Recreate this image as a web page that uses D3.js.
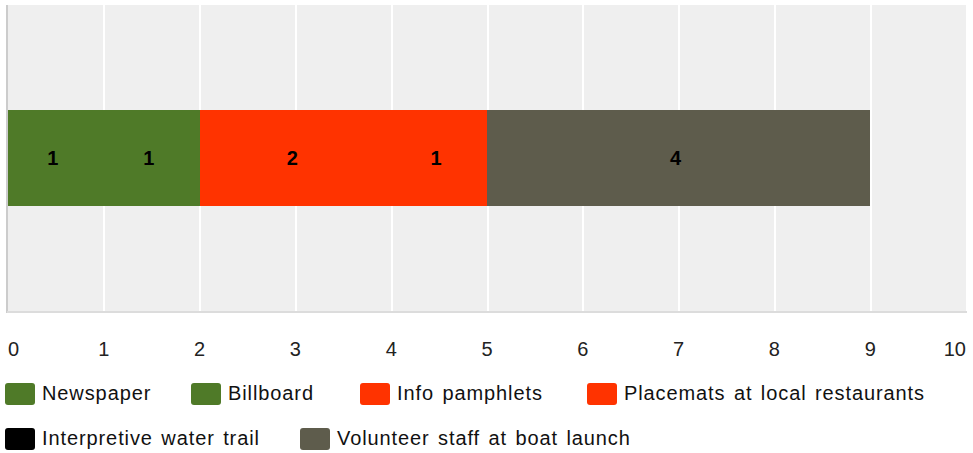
<script src='https://d3js.org/d3.v7.min.js'></script>
<style>
body {margin:0; background:#fff;}
text {font-family:Arial,'Liberation Sans',sans-serif;}
.grid line {stroke:#fff; stroke-width:2; shape-rendering:crispEdges;}
.grid path {display:none;}
.seg {shape-rendering:crispEdges;}
.tick-lbl {font-size:20px; fill:#222;}
.val {font-size:20px; font-weight:bold; fill:#000;}
.leg {font-size:20px; fill:#111; letter-spacing:0.9px; word-spacing:2px;}
</style>
<body>
<svg id='chart' width='973' height='453'></svg>
<script>
var series=['Newspaper','Billboard','Info pamphlets','Placemats at local restaurants','Interpretive water trail','Volunteer staff at boat launch'];
var values=[1,1,2,1,0,4];
var colors=['#4f7a28','#4f7a28','#ff3300','#ff3300','#000000','#5e5c4c'];
var ticks=[0,1,2,3,4,5,6,7,8,9,10];

var m={left:8,right:7,top:5,bottom:142};
var W=973,H=453,w=W-m.left-m.right,h=H-m.top-m.bottom;
var svg=d3.select('#chart');
var g=svg.append('g').attr('transform','translate('+m.left+','+m.top+')');

var x=d3.scaleLinear().domain([0,10]).range([0,w]);
var y=d3.scaleBand().domain(['row']).range([0,h]).paddingInner(0).paddingOuter(1.094);

g.append('rect').attr('width',w).attr('height',h).attr('fill','#efefef');
g.append('g').attr('class','grid').attr('transform','translate(0,'+h+')')
 .call(d3.axisBottom(x).tickValues(ticks.slice(1,-1)).tickSize(h).tickFormat(''))
 .selectAll('line').attr('y1',-h).attr('y2',0);
g.append('line').attr('x1',-1).attr('x2',-1).attr('y1',0).attr('y2',h+2).attr('stroke','#cccccc').attr('stroke-width',2);
g.append('line').attr('x1',-1).attr('x2',w+1).attr('y1',h+1).attr('y2',h+1).attr('stroke','#dcdcdc').attr('stroke-width',2);

var stacked=[],acc=0;
values.forEach(function(v,i){stacked.push({name:series[i],v:v,x0:acc,x1:acc+v,c:colors[i]});acc+=v;});

g.selectAll('.seg').data(stacked.filter(function(d){return d.v>0})).enter().append('rect')
 .attr('class','seg').attr('x',function(d){return Math.round(x(d.x0))}).attr('width',function(d){return Math.round(x(d.x1))-Math.round(x(d.x0))})
 .attr('y',y('row')).attr('height',y.bandwidth()).attr('fill',function(d){return d.c});
g.selectAll('.val').data(stacked.filter(function(d){return d.v>0})).enter().append('text')
 .attr('class','val').attr('text-anchor','middle').attr('dx',-3)
 .attr('x',function(d){return (x(d.x0)+x(d.x1))/2}).attr('y',y('row')+y.bandwidth()/2+7)
 .text(function(d){return d.v});

g.selectAll('.tick-lbl').data(ticks).enter().append('text').attr('class','tick-lbl')
 .attr('x',function(d){return x(d)}).attr('y',351)
 .attr('text-anchor',function(d){return d===0?'start':d===10?'end':'middle'})
 .text(function(d){return d});

var legPos=[[5,393],[191,393],[360,393],[587,393],[5,438],[300,438]];
var leg=svg.selectAll('.legitem').data(series).enter().append('g')
 .attr('transform',function(d,i){return 'translate('+legPos[i][0]+','+legPos[i][1]+')'});
leg.append('rect').attr('y',-10).attr('width',30).attr('height',22).attr('rx',3).attr('fill',function(d,i){return colors[i]});
leg.append('text').attr('class','leg').attr('x',37).attr('y',7).text(function(d){return d});
</script>
</body>
